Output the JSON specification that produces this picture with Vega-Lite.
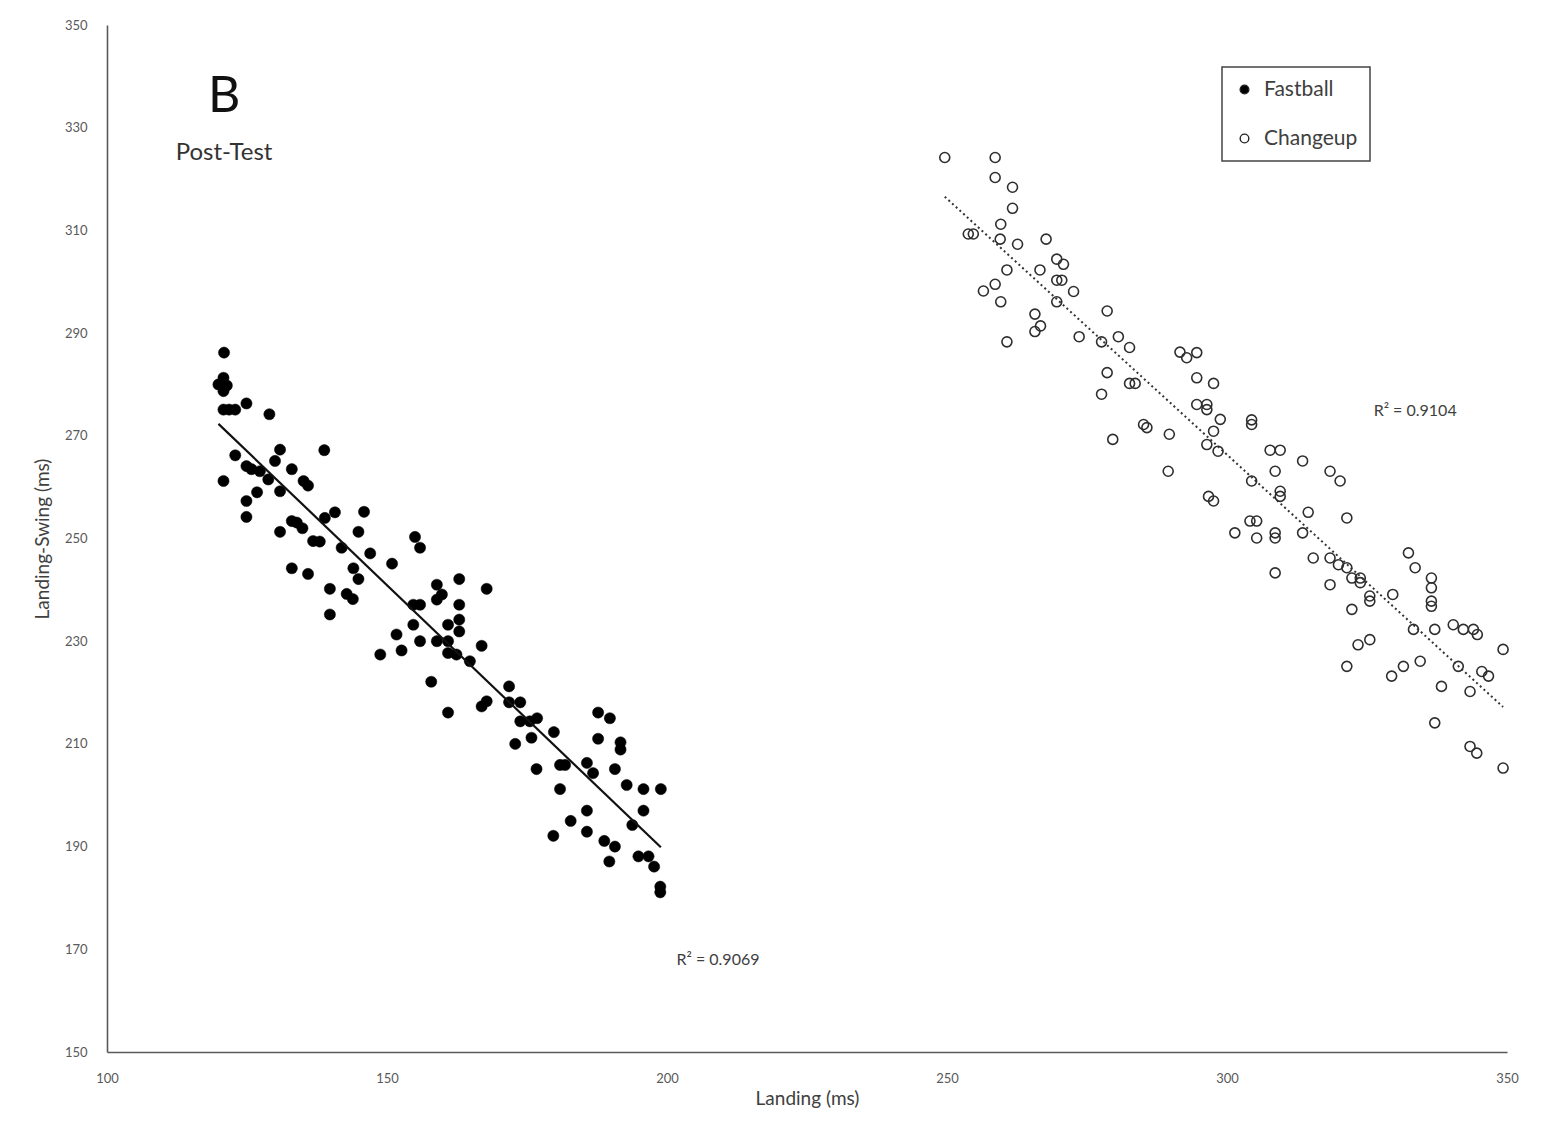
{
  "$schema": "https://vega.github.io/schema/vega-lite/v6.json",
  "width": 1400,
  "height": 1027,
  "autosize": {"type": "none"},
  "padding": {"left": 107, "top": 25, "right": 37, "bottom": 78},
  "background": "white",
  "config": {
    "view": {"stroke": null},
    "font": "Lato",
    "axis": {
      "domainColor": "#5a5a5a",
      "domainWidth": 1.6,
      "ticks": false,
      "grid": false,
      "labelFlush": false,
      "labelColor": "#595959",
      "labelFont": "Lato",
      "labelFontSize": 13,
      "titleFont": "Lato",
      "titleFontSize": 19,
      "titleColor": "#404040",
      "titleFontWeight": "normal"
    },
    "legend": {
      "orient": "none",
      "legendX": 1115,
      "legendY": 42,
      "strokeColor": "#444444",
      "strokeWidth": 1.5,
      "padding": 12,
      "rowPadding": 27,
      "labelFont": "Lato",
      "labelFontSize": 21,
      "labelColor": "#404040",
      "labelOffset": 9,
      "symbolSize": 75,
      "symbolType": "circle",
      "symbolStrokeColor": "#222222",
      "symbolStrokeWidth": 1.4,
      "title": null,
      "fillColor": "white"
    }
  },
  "datasets": {
    "points": [
      {"type":"Fastball","landing":120.9,"landing_swing":286.2},
      {"type":"Fastball","landing":120.8,"landing_swing":281.3},
      {"type":"Fastball","landing":119.9,"landing_swing":280.0},
      {"type":"Fastball","landing":120.8,"landing_swing":278.7},
      {"type":"Fastball","landing":121.4,"landing_swing":279.8},
      {"type":"Fastball","landing":120.8,"landing_swing":275.1},
      {"type":"Fastball","landing":121.8,"landing_swing":275.1},
      {"type":"Fastball","landing":122.9,"landing_swing":275.1},
      {"type":"Fastball","landing":124.9,"landing_swing":276.3},
      {"type":"Fastball","landing":129.0,"landing_swing":274.2},
      {"type":"Fastball","landing":122.9,"landing_swing":266.2},
      {"type":"Fastball","landing":120.8,"landing_swing":261.2},
      {"type":"Fastball","landing":124.9,"landing_swing":264.1},
      {"type":"Fastball","landing":125.8,"landing_swing":263.5},
      {"type":"Fastball","landing":127.3,"landing_swing":263.1},
      {"type":"Fastball","landing":128.8,"landing_swing":261.5},
      {"type":"Fastball","landing":130.9,"landing_swing":267.3},
      {"type":"Fastball","landing":130.0,"landing_swing":265.1},
      {"type":"Fastball","landing":126.8,"landing_swing":259.0},
      {"type":"Fastball","landing":124.9,"landing_swing":257.3},
      {"type":"Fastball","landing":124.9,"landing_swing":254.2},
      {"type":"Fastball","landing":130.9,"landing_swing":259.2},
      {"type":"Fastball","landing":133.0,"landing_swing":263.5},
      {"type":"Fastball","landing":135.1,"landing_swing":261.2},
      {"type":"Fastball","landing":135.9,"landing_swing":260.3},
      {"type":"Fastball","landing":138.8,"landing_swing":267.2},
      {"type":"Fastball","landing":130.9,"landing_swing":251.3},
      {"type":"Fastball","landing":133.0,"landing_swing":253.4},
      {"type":"Fastball","landing":133.9,"landing_swing":253.1},
      {"type":"Fastball","landing":134.9,"landing_swing":252.0},
      {"type":"Fastball","landing":136.8,"landing_swing":249.5},
      {"type":"Fastball","landing":138.0,"landing_swing":249.4},
      {"type":"Fastball","landing":138.9,"landing_swing":254.0},
      {"type":"Fastball","landing":140.7,"landing_swing":255.1},
      {"type":"Fastball","landing":145.9,"landing_swing":255.2},
      {"type":"Fastball","landing":144.9,"landing_swing":251.3},
      {"type":"Fastball","landing":141.9,"landing_swing":248.2},
      {"type":"Fastball","landing":147.0,"landing_swing":247.1},
      {"type":"Fastball","landing":133.0,"landing_swing":244.2},
      {"type":"Fastball","landing":135.9,"landing_swing":243.1},
      {"type":"Fastball","landing":144.0,"landing_swing":244.2},
      {"type":"Fastball","landing":144.9,"landing_swing":242.1},
      {"type":"Fastball","landing":150.9,"landing_swing":245.1},
      {"type":"Fastball","landing":155.0,"landing_swing":250.3},
      {"type":"Fastball","landing":155.9,"landing_swing":248.2},
      {"type":"Fastball","landing":139.8,"landing_swing":240.2},
      {"type":"Fastball","landing":142.8,"landing_swing":239.2},
      {"type":"Fastball","landing":143.9,"landing_swing":238.2},
      {"type":"Fastball","landing":139.8,"landing_swing":235.2},
      {"type":"Fastball","landing":158.9,"landing_swing":241.0},
      {"type":"Fastball","landing":159.8,"landing_swing":239.1},
      {"type":"Fastball","landing":158.9,"landing_swing":238.1},
      {"type":"Fastball","landing":162.9,"landing_swing":242.1},
      {"type":"Fastball","landing":167.8,"landing_swing":240.2},
      {"type":"Fastball","landing":154.7,"landing_swing":237.1},
      {"type":"Fastball","landing":155.9,"landing_swing":237.1},
      {"type":"Fastball","landing":162.9,"landing_swing":237.1},
      {"type":"Fastball","landing":154.7,"landing_swing":233.2},
      {"type":"Fastball","landing":160.9,"landing_swing":233.2},
      {"type":"Fastball","landing":162.9,"landing_swing":234.2},
      {"type":"Fastball","landing":162.9,"landing_swing":231.9},
      {"type":"Fastball","landing":151.7,"landing_swing":231.3},
      {"type":"Fastball","landing":155.9,"landing_swing":230.0},
      {"type":"Fastball","landing":158.9,"landing_swing":230.0},
      {"type":"Fastball","landing":160.9,"landing_swing":230.0},
      {"type":"Fastball","landing":166.9,"landing_swing":229.1},
      {"type":"Fastball","landing":148.8,"landing_swing":227.4},
      {"type":"Fastball","landing":152.6,"landing_swing":228.2},
      {"type":"Fastball","landing":160.9,"landing_swing":227.7},
      {"type":"Fastball","landing":162.4,"landing_swing":227.4},
      {"type":"Fastball","landing":164.8,"landing_swing":226.1},
      {"type":"Fastball","landing":157.9,"landing_swing":222.1},
      {"type":"Fastball","landing":160.9,"landing_swing":216.1},
      {"type":"Fastball","landing":166.9,"landing_swing":217.3},
      {"type":"Fastball","landing":167.8,"landing_swing":218.3},
      {"type":"Fastball","landing":171.8,"landing_swing":221.2},
      {"type":"Fastball","landing":171.8,"landing_swing":218.1},
      {"type":"Fastball","landing":173.8,"landing_swing":218.1},
      {"type":"Fastball","landing":173.8,"landing_swing":214.4},
      {"type":"Fastball","landing":175.5,"landing_swing":214.4},
      {"type":"Fastball","landing":176.8,"landing_swing":215.0},
      {"type":"Fastball","landing":172.9,"landing_swing":210.0},
      {"type":"Fastball","landing":175.8,"landing_swing":211.2},
      {"type":"Fastball","landing":179.8,"landing_swing":212.3},
      {"type":"Fastball","landing":176.7,"landing_swing":205.1},
      {"type":"Fastball","landing":180.9,"landing_swing":205.9},
      {"type":"Fastball","landing":181.8,"landing_swing":205.9},
      {"type":"Fastball","landing":180.9,"landing_swing":201.2},
      {"type":"Fastball","landing":185.7,"landing_swing":206.3},
      {"type":"Fastball","landing":186.8,"landing_swing":204.3},
      {"type":"Fastball","landing":187.7,"landing_swing":216.1},
      {"type":"Fastball","landing":189.8,"landing_swing":215.0},
      {"type":"Fastball","landing":187.7,"landing_swing":211.0},
      {"type":"Fastball","landing":191.7,"landing_swing":210.3},
      {"type":"Fastball","landing":191.7,"landing_swing":208.9},
      {"type":"Fastball","landing":190.7,"landing_swing":205.1},
      {"type":"Fastball","landing":192.8,"landing_swing":202.0},
      {"type":"Fastball","landing":195.8,"landing_swing":201.2},
      {"type":"Fastball","landing":198.9,"landing_swing":201.2},
      {"type":"Fastball","landing":195.8,"landing_swing":197.0},
      {"type":"Fastball","landing":185.7,"landing_swing":197.0},
      {"type":"Fastball","landing":182.8,"landing_swing":195.0},
      {"type":"Fastball","landing":185.7,"landing_swing":192.9},
      {"type":"Fastball","landing":193.8,"landing_swing":194.2},
      {"type":"Fastball","landing":179.7,"landing_swing":192.1},
      {"type":"Fastball","landing":188.8,"landing_swing":191.1},
      {"type":"Fastball","landing":190.7,"landing_swing":190.0},
      {"type":"Fastball","landing":189.7,"landing_swing":187.1},
      {"type":"Fastball","landing":194.9,"landing_swing":188.1},
      {"type":"Fastball","landing":196.7,"landing_swing":188.1},
      {"type":"Fastball","landing":197.7,"landing_swing":186.1},
      {"type":"Fastball","landing":198.8,"landing_swing":182.2},
      {"type":"Fastball","landing":198.8,"landing_swing":181.1},
      {"type":"Changeup","landing":249.6,"landing_swing":324.2},
      {"type":"Changeup","landing":258.6,"landing_swing":324.2},
      {"type":"Changeup","landing":258.6,"landing_swing":320.3},
      {"type":"Changeup","landing":261.7,"landing_swing":318.4},
      {"type":"Changeup","landing":261.7,"landing_swing":314.3},
      {"type":"Changeup","landing":259.6,"landing_swing":311.2},
      {"type":"Changeup","landing":253.8,"landing_swing":309.3},
      {"type":"Changeup","landing":254.7,"landing_swing":309.3},
      {"type":"Changeup","landing":259.5,"landing_swing":308.3},
      {"type":"Changeup","landing":262.6,"landing_swing":307.3},
      {"type":"Changeup","landing":267.7,"landing_swing":308.3},
      {"type":"Changeup","landing":269.6,"landing_swing":304.4},
      {"type":"Changeup","landing":270.8,"landing_swing":303.4},
      {"type":"Changeup","landing":260.7,"landing_swing":302.3},
      {"type":"Changeup","landing":266.6,"landing_swing":302.3},
      {"type":"Changeup","landing":269.6,"landing_swing":300.3},
      {"type":"Changeup","landing":270.5,"landing_swing":300.3},
      {"type":"Changeup","landing":272.6,"landing_swing":298.1},
      {"type":"Changeup","landing":258.6,"landing_swing":299.5},
      {"type":"Changeup","landing":256.5,"landing_swing":298.2},
      {"type":"Changeup","landing":259.6,"landing_swing":296.1},
      {"type":"Changeup","landing":269.6,"landing_swing":296.1},
      {"type":"Changeup","landing":265.7,"landing_swing":293.7},
      {"type":"Changeup","landing":266.7,"landing_swing":291.4},
      {"type":"Changeup","landing":265.7,"landing_swing":290.3},
      {"type":"Changeup","landing":260.7,"landing_swing":288.3},
      {"type":"Changeup","landing":273.6,"landing_swing":289.3},
      {"type":"Changeup","landing":278.6,"landing_swing":294.3},
      {"type":"Changeup","landing":277.6,"landing_swing":288.3},
      {"type":"Changeup","landing":280.6,"landing_swing":289.3},
      {"type":"Changeup","landing":282.6,"landing_swing":287.2},
      {"type":"Changeup","landing":278.6,"landing_swing":282.3},
      {"type":"Changeup","landing":277.6,"landing_swing":278.1},
      {"type":"Changeup","landing":282.6,"landing_swing":280.2},
      {"type":"Changeup","landing":283.6,"landing_swing":280.2},
      {"type":"Changeup","landing":291.6,"landing_swing":286.3},
      {"type":"Changeup","landing":292.8,"landing_swing":285.2},
      {"type":"Changeup","landing":294.6,"landing_swing":286.2},
      {"type":"Changeup","landing":294.6,"landing_swing":281.3},
      {"type":"Changeup","landing":297.6,"landing_swing":280.2},
      {"type":"Changeup","landing":294.6,"landing_swing":276.1},
      {"type":"Changeup","landing":296.4,"landing_swing":276.1},
      {"type":"Changeup","landing":296.4,"landing_swing":275.1},
      {"type":"Changeup","landing":298.8,"landing_swing":273.2},
      {"type":"Changeup","landing":297.6,"landing_swing":270.9},
      {"type":"Changeup","landing":285.1,"landing_swing":272.2},
      {"type":"Changeup","landing":285.7,"landing_swing":271.6},
      {"type":"Changeup","landing":289.7,"landing_swing":270.3},
      {"type":"Changeup","landing":279.6,"landing_swing":269.3},
      {"type":"Changeup","landing":296.4,"landing_swing":268.3},
      {"type":"Changeup","landing":289.5,"landing_swing":263.1},
      {"type":"Changeup","landing":298.4,"landing_swing":267.0},
      {"type":"Changeup","landing":304.4,"landing_swing":273.1},
      {"type":"Changeup","landing":304.4,"landing_swing":272.2},
      {"type":"Changeup","landing":307.7,"landing_swing":267.2},
      {"type":"Changeup","landing":309.5,"landing_swing":267.2},
      {"type":"Changeup","landing":308.6,"landing_swing":263.1},
      {"type":"Changeup","landing":313.5,"landing_swing":265.1},
      {"type":"Changeup","landing":318.4,"landing_swing":263.1},
      {"type":"Changeup","landing":320.2,"landing_swing":261.2},
      {"type":"Changeup","landing":304.4,"landing_swing":261.2},
      {"type":"Changeup","landing":309.5,"landing_swing":259.2},
      {"type":"Changeup","landing":309.5,"landing_swing":258.2},
      {"type":"Changeup","landing":314.5,"landing_swing":255.1},
      {"type":"Changeup","landing":321.4,"landing_swing":254.0},
      {"type":"Changeup","landing":296.7,"landing_swing":258.2},
      {"type":"Changeup","landing":297.6,"landing_swing":257.3},
      {"type":"Changeup","landing":301.4,"landing_swing":251.1},
      {"type":"Changeup","landing":304.1,"landing_swing":253.4},
      {"type":"Changeup","landing":305.3,"landing_swing":253.4},
      {"type":"Changeup","landing":305.3,"landing_swing":250.1},
      {"type":"Changeup","landing":308.6,"landing_swing":251.1},
      {"type":"Changeup","landing":308.6,"landing_swing":250.1},
      {"type":"Changeup","landing":313.5,"landing_swing":251.1},
      {"type":"Changeup","landing":308.6,"landing_swing":243.3},
      {"type":"Changeup","landing":315.4,"landing_swing":246.2},
      {"type":"Changeup","landing":318.4,"landing_swing":246.2},
      {"type":"Changeup","landing":319.9,"landing_swing":244.9},
      {"type":"Changeup","landing":321.4,"landing_swing":244.3},
      {"type":"Changeup","landing":322.3,"landing_swing":242.3},
      {"type":"Changeup","landing":323.8,"landing_swing":242.3},
      {"type":"Changeup","landing":323.8,"landing_swing":241.4},
      {"type":"Changeup","landing":318.4,"landing_swing":241.0},
      {"type":"Changeup","landing":325.5,"landing_swing":238.8},
      {"type":"Changeup","landing":325.5,"landing_swing":237.8},
      {"type":"Changeup","landing":329.6,"landing_swing":239.1},
      {"type":"Changeup","landing":332.4,"landing_swing":247.2},
      {"type":"Changeup","landing":333.6,"landing_swing":244.3},
      {"type":"Changeup","landing":336.5,"landing_swing":242.3},
      {"type":"Changeup","landing":336.5,"landing_swing":240.4},
      {"type":"Changeup","landing":336.5,"landing_swing":237.8},
      {"type":"Changeup","landing":336.5,"landing_swing":236.8},
      {"type":"Changeup","landing":322.3,"landing_swing":236.2},
      {"type":"Changeup","landing":333.3,"landing_swing":232.3},
      {"type":"Changeup","landing":337.1,"landing_swing":232.3},
      {"type":"Changeup","landing":340.4,"landing_swing":233.2},
      {"type":"Changeup","landing":342.2,"landing_swing":232.3},
      {"type":"Changeup","landing":344.0,"landing_swing":232.3},
      {"type":"Changeup","landing":344.7,"landing_swing":231.3},
      {"type":"Changeup","landing":323.4,"landing_swing":229.3},
      {"type":"Changeup","landing":325.5,"landing_swing":230.3},
      {"type":"Changeup","landing":321.4,"landing_swing":225.1},
      {"type":"Changeup","landing":329.4,"landing_swing":223.2},
      {"type":"Changeup","landing":331.5,"landing_swing":225.1},
      {"type":"Changeup","landing":334.5,"landing_swing":226.1},
      {"type":"Changeup","landing":341.3,"landing_swing":225.1},
      {"type":"Changeup","landing":345.5,"landing_swing":224.1},
      {"type":"Changeup","landing":346.7,"landing_swing":223.2},
      {"type":"Changeup","landing":349.3,"landing_swing":228.4},
      {"type":"Changeup","landing":338.3,"landing_swing":221.2},
      {"type":"Changeup","landing":343.4,"landing_swing":220.2},
      {"type":"Changeup","landing":337.1,"landing_swing":214.1},
      {"type":"Changeup","landing":343.4,"landing_swing":209.5},
      {"type":"Changeup","landing":344.6,"landing_swing":208.2},
      {"type":"Changeup","landing":349.3,"landing_swing":205.3}
    ]
  },
  "data": {"name": "points"},
  "encoding": {
    "x": {
      "field": "landing",
      "type": "quantitative",
      "title": "Landing (ms)",
      "scale": {"domain": [100, 350], "nice": false, "zero": false},
      "axis": {"values": [100, 150, 200, 250, 300, 350], "labelPadding": 20, "titlePadding": 4}
    },
    "y": {
      "field": "landing_swing",
      "type": "quantitative",
      "title": "Landing-Swing (ms)",
      "scale": {"domain": [150, 350], "nice": false, "zero": false},
      "axis": {"values": [150, 170, 190, 210, 230, 250, 270, 290, 310, 330, 350], "labelPadding": 20, "titlePadding": 12}
    }
  },
  "layer": [
    {
      "transform": [{"filter": "datum.type === 'Fastball'"}],
      "mark": {"type": "point", "filled": true, "size": 125, "stroke": "#000000", "strokeWidth": 0.5, "opacity": 1},
      "encoding": {
        "fill": {
          "field": "type",
          "type": "nominal",
          "scale": {"domain": ["Fastball", "Changeup"], "range": ["#000000", "transparent"]},
          "legend": {"title": null}
        }
      }
    },
    {
      "transform": [{"filter": "datum.type === 'Changeup'"}],
      "mark": {"type": "point", "filled": true, "size": 100, "stroke": "#2e2e2e", "strokeWidth": 1.6, "opacity": 1},
      "encoding": {
        "fill": {"field": "type", "type": "nominal"}
      }
    },
    {
      "transform": [
        {"filter": "datum.type === 'Fastball'"},
        {"regression": "landing_swing", "on": "landing"}
      ],
      "mark": {"type": "line", "color": "#111111", "strokeWidth": 2.2},
      "encoding": {}
    },
    {
      "transform": [
        {"filter": "datum.type === 'Changeup'"},
        {"regression": "landing_swing", "on": "landing"}
      ],
      "mark": {"type": "line", "color": "#333333", "strokeWidth": 2, "strokeDash": [2, 3]},
      "encoding": {}
    },
    {
      "data": {"values": [{"landing": 120.9, "landing_swing": 336.0, "label": "B"}]},
      "mark": {"type": "text", "fontSize": 50, "font": "Lato", "color": "#111111", "baseline": "middle", "align": "center"},
      "encoding": {"text": {"field": "label"}}
    },
    {
      "data": {"values": [{"landing": 120.9, "landing_swing": 325.0, "label": "Post-Test"}]},
      "mark": {"type": "text", "fontSize": 24, "font": "Lato", "color": "#333333", "baseline": "middle", "align": "center"},
      "encoding": {"text": {"field": "label"}}
    },
    {
      "data": {"values": [
        {"landing": 209.1, "landing_swing": 167.9, "label": "R² = 0.9069"},
        {"landing": 333.6, "landing_swing": 274.8, "label": "R² = 0.9104"}
      ]},
      "mark": {"type": "text", "fontSize": 16, "font": "Lato", "color": "#404040", "baseline": "middle", "align": "center"},
      "encoding": {"text": {"field": "label"}}
    }
  ]
}
